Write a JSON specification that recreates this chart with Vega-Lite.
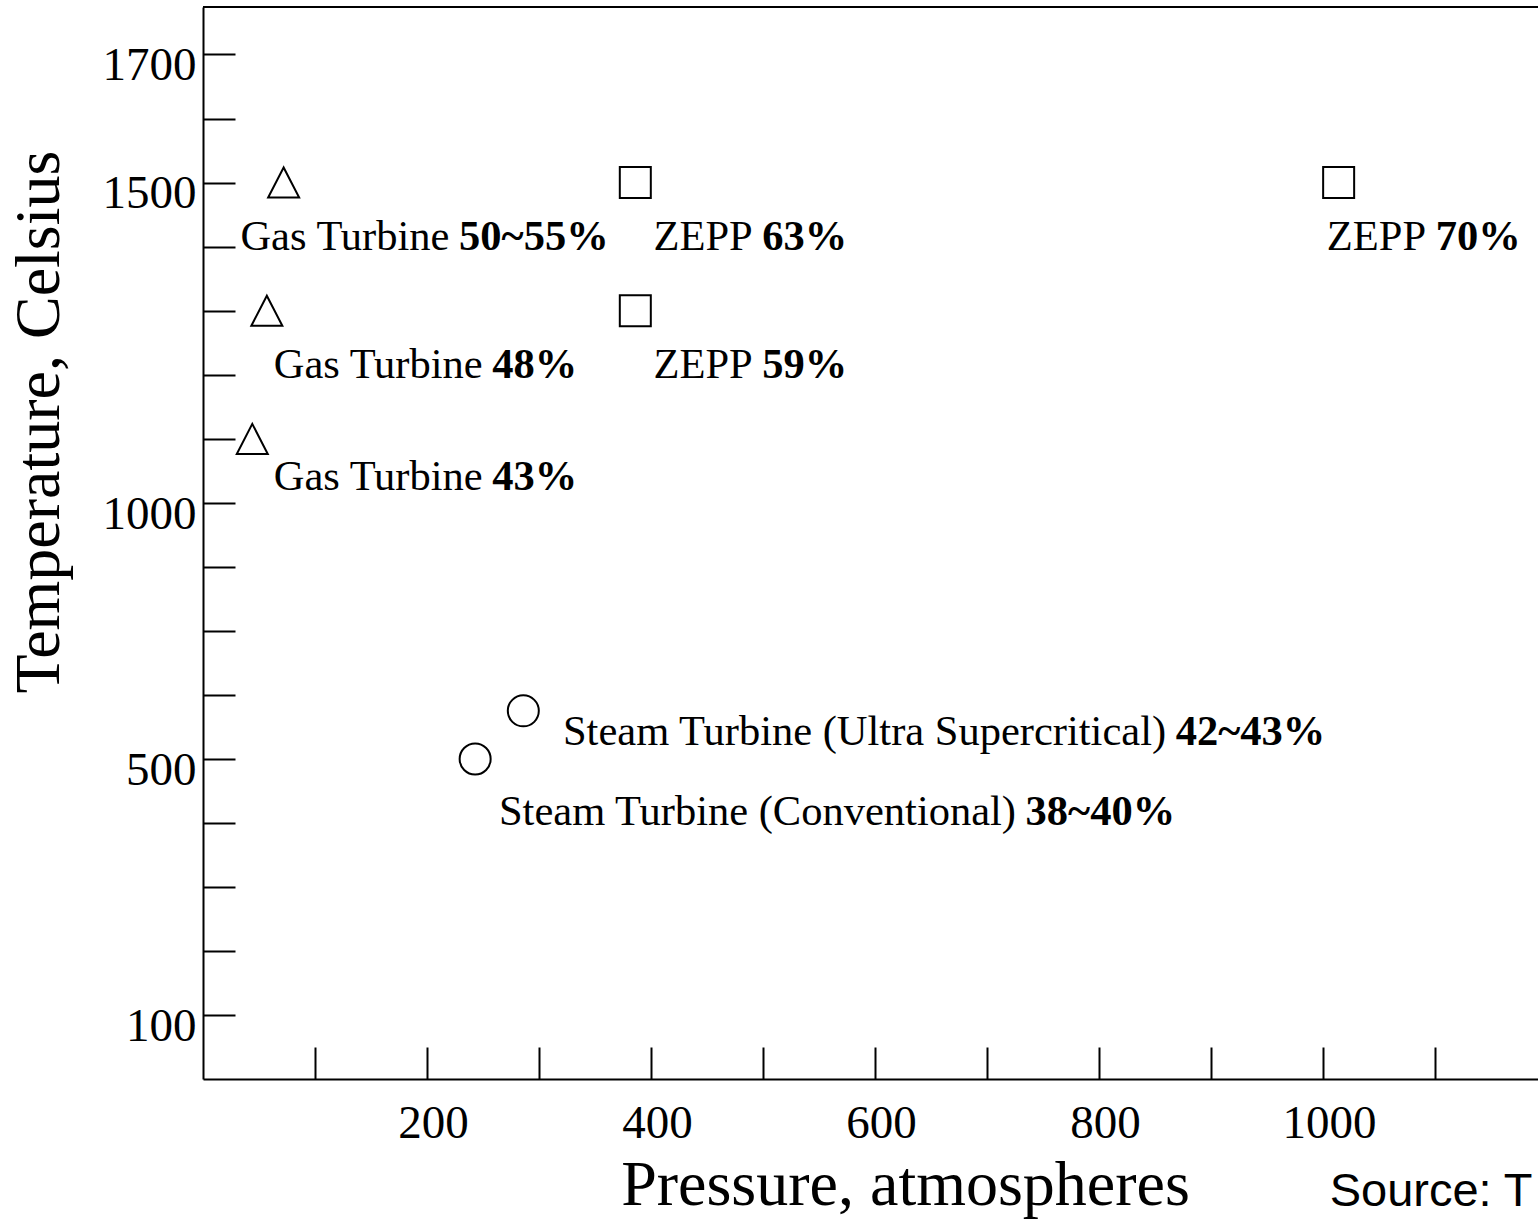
{
  "$schema": "https://vega.github.io/schema/vega-lite/v6.json",
  "width": 1335,
  "height": 1072,
  "autosize": {"type": "none"},
  "padding": {"left": 203, "top": 7, "right": 0, "bottom": 148},
  "background": "white",
  "config": {"view": {"stroke": null}},
  "data": {
    "values": [
      {"type": "Gas Turbine", "name": "Gas Turbine", "eff": "50~55%", "pressure": 72, "temp": 1500, "lx": 229.5, "ly": 1394.8},
      {"type": "Gas Turbine", "name": "Gas Turbine", "eff": "48%", "pressure": 57, "temp": 1300, "lx": 259.2, "ly": 1195},
      {"type": "Gas Turbine", "name": "Gas Turbine", "eff": "43%", "pressure": 44, "temp": 1100, "lx": 259.2, "ly": 1020.3},
      {"type": "ZEPP", "name": "ZEPP", "eff": "63%", "pressure": 386, "temp": 1500, "lx": 500.3, "ly": 1394.8},
      {"type": "ZEPP", "name": "ZEPP", "eff": "59%", "pressure": 386, "temp": 1300, "lx": 500.3, "ly": 1195},
      {"type": "ZEPP", "name": "ZEPP", "eff": "70%", "pressure": 1014, "temp": 1500, "lx": 1101.5, "ly": 1394.8},
      {"type": "Steam Turbine", "name": "Steam Turbine (Ultra Supercritical)", "eff": "42~43%", "pressure": 286, "temp": 594, "lx": 869.4, "ly": 527.3},
      {"type": "Steam Turbine", "name": "Steam Turbine (Conventional)", "eff": "38~40%", "pressure": 243, "temp": 500, "lx": 735.4, "ly": 396.9}
    ]
  },
  "layer": [
    {
      "mark": {"type": "point", "filled": false, "color": "black", "strokeWidth": 2, "size": 961, "opacity": 1},
      "encoding": {
        "x": {
          "field": "pressure",
          "type": "quantitative",
          "scale": {"domain": [0, 1192], "nice": false, "zero": false},
          "axis": {
            "title": "Pressure, atmospheres",
            "values": [100, 200, 300, 400, 500, 600, 700, 800, 900, 1000, 1100],
            "labelExpr": "datum.value % 200 === 0 ? '' + datum.value : ''",
            "grid": false,
            "tickSize": -32,
            "tickWidth": 2,
            "tickColor": "black",
            "domainColor": "black",
            "domainWidth": 2,
            "labelFont": "Liberation Serif",
            "labelFontSize": 47,
            "labelColor": "black",
            "labelPadding": 90,
            "labelBaseline": "alphabetic",
            "labelOffset": 6,
            "labelFlush": false,
            "labelOverlap": false,
            "labelBound": false,
            "titleFont": "Liberation Serif",
            "titleFontSize": 64,
            "titleFontWeight": "normal",
            "titleColor": "black",
            "titleX": 702,
            "titleY": 125,
            "titleAlign": "center",
            "titleBaseline": "alphabetic"
          }
        },
        "y": {
          "field": "temp",
          "type": "quantitative",
          "scale": {"domain": [0, 500, 1000, 1774], "range": [1072, 752, 496, 0], "nice": false, "zero": false},
          "axis": {
            "title": "Temperature, Celsius",
            "values": [100, 200, 300, 400, 500, 625, 750, 875, 1000, 1100, 1200, 1300, 1400, 1500, 1600, 1700],
            "labelExpr": "indexof([100, 500, 1000, 1500, 1700], datum.value) >= 0 ? '' + datum.value : ''",
            "grid": false,
            "tickSize": -32,
            "tickWidth": 2,
            "tickColor": "black",
            "domainColor": "black",
            "domainWidth": 2,
            "labelFont": "Liberation Serif",
            "labelFontSize": 47,
            "labelColor": "black",
            "labelPadding": 39,
            "labelAlign": "right",
            "labelBaseline": "alphabetic",
            "labelOffset": 25,
            "labelFlush": false,
            "labelOverlap": false,
            "labelBound": false,
            "titleFont": "Liberation Serif",
            "titleFontSize": 64,
            "titleFontWeight": "normal",
            "titleColor": "black",
            "titleAngle": 270,
            "titleX": -145,
            "titleY": 414.5,
            "titleAlign": "center",
            "titleBaseline": "alphabetic"
          }
        },
        "shape": {
          "field": "type",
          "type": "nominal",
          "scale": {
            "domain": ["Gas Turbine", "ZEPP", "Steam Turbine"],
            "range": ["M0,-0.97L-1,0.97L1,0.97Z", "square", "circle"]
          },
          "legend": null
        }
      }
    },
    {
      "data": {"values": [{}]},
      "mark": {"type": "rule", "color": "black", "strokeWidth": 2},
      "encoding": {
        "y": {"datum": 1774, "type": "quantitative"}
      }
    },
    {
      "mark": {"type": "text", "align": "right", "baseline": "alphabetic", "dx": -10.6, "font": "Liberation Serif", "fontSize": 42.5, "color": "black"},
      "encoding": {
        "x": {"field": "lx", "type": "quantitative"},
        "y": {"field": "ly", "type": "quantitative"},
        "text": {"field": "name"}
      }
    },
    {
      "mark": {"type": "text", "align": "left", "baseline": "alphabetic", "dx": -1, "font": "Liberation Serif", "fontSize": 42.5, "fontWeight": "bold", "color": "black"},
      "encoding": {
        "x": {"field": "lx", "type": "quantitative"},
        "y": {"field": "ly", "type": "quantitative"},
        "text": {"field": "eff"}
      }
    },
    {
      "data": {"values": [{"note": "Source: T"}]},
      "mark": {"type": "text", "align": "left", "baseline": "alphabetic", "font": "Liberation Sans", "fontSize": 47, "color": "black"},
      "encoding": {
        "x": {"datum": 1006, "type": "quantitative"},
        "y": {"datum": -198, "type": "quantitative"},
        "text": {"field": "note"}
      }
    }
  ]
}
